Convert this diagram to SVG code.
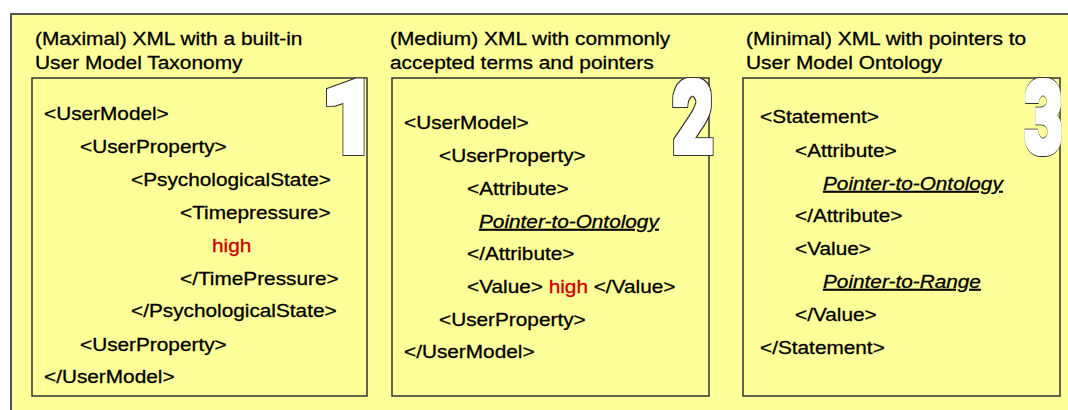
<svg xmlns="http://www.w3.org/2000/svg" width="1068" height="410" viewBox="0 0 1068 410">
<style>
.frame{fill:#FFFF99;stroke:#555;stroke-width:2}
.box{fill:#FFFF99;stroke:#333;stroke-width:1.5}
.hd{font-family:"Liberation Sans",Arial,sans-serif;font-size:19px;fill:#000;stroke:#000;stroke-width:0.3}
.t{font-family:"Liberation Sans",Arial,sans-serif;font-size:18px;fill:#000;stroke:#000;stroke-width:0.3}
.ptr{font-style:italic;text-decoration:underline}
.red{fill:#CC0000;stroke:#CC0000}
.num{font-family:Roboto,"Liberation Sans",sans-serif;font-weight:bold;font-size:98px;fill:#fff;text-anchor:middle;filter:url(#heavy)}
</style>
<defs>
<filter id="heavy" x="-30%" y="-20%" width="160%" height="140%">
<feMorphology in="SourceAlpha" operator="dilate" radius="3.6" result="o"/>
<feFlood flood-color="#333"/>
<feComposite in2="o" operator="in" result="ol"/>
<feMorphology in="SourceAlpha" operator="dilate" radius="2.6" result="i"/>
<feFlood flood-color="#fff"/>
<feComposite in2="i" operator="in" result="w"/>
<feMerge><feMergeNode in="ol"/><feMergeNode in="w"/></feMerge>
</filter>
</defs>
<rect width="1068" height="410" fill="#fff"/>
<rect class="frame" x="11" y="14" width="1070" height="410"/>
<g id="box1">
<text class="hd" transform="translate(35 45) scale(1.1 1)">(Maximal) XML with a built-in</text>
<text class="hd" transform="translate(35 69) scale(1.1 1)">User Model Taxonomy</text>
<rect class="box" x="32" y="78" width="335" height="318"/>
<text class="num" transform="translate(350 152) scale(1.0 1)">1</text>
<text class="t" transform="translate(44 120) scale(1.155 1)">&lt;UserModel&gt;</text>
<text class="t" transform="translate(80 153) scale(1.155 1)">&lt;UserProperty&gt;</text>
<text class="t" transform="translate(131 186) scale(1.155 1)">&lt;PsychologicalState&gt;</text>
<text class="t" transform="translate(180 219) scale(1.155 1)">&lt;Timepressure&gt;</text>
<text class="t red" transform="translate(212 252) scale(1.155 1)">high</text>
<text class="t" transform="translate(180 285) scale(1.155 1)">&lt;/TimePressure&gt;</text>
<text class="t" transform="translate(131 317) scale(1.155 1)">&lt;/PsychologicalState&gt;</text>
<text class="t" transform="translate(80 351) scale(1.155 1)">&lt;UserProperty&gt;</text>
<text class="t" transform="translate(44 383) scale(1.155 1)">&lt;/UserModel&gt;</text>
</g>
<g id="box2">
<text class="hd" transform="translate(390 45) scale(1.1 1)">(Medium) XML with commonly</text>
<text class="hd" transform="translate(390 69) scale(1.1 1)">accepted terms and pointers</text>
<rect class="box" x="392" y="78" width="317" height="318"/>
<text class="num" transform="translate(693 152) scale(0.72 1)">2</text>
<text class="t" transform="translate(404 129) scale(1.155 1)">&lt;UserModel&gt;</text>
<text class="t" transform="translate(439 162) scale(1.155 1)">&lt;UserProperty&gt;</text>
<text class="t" transform="translate(467 195) scale(1.155 1)">&lt;Attribute&gt;</text>
<text class="t ptr" transform="translate(479 228) scale(1.155 1)">Pointer-to-Ontology</text>
<text class="t" transform="translate(467 260) scale(1.155 1)">&lt;/Attribute&gt;</text>
<text class="t" transform="translate(467 293) scale(1.155 1)">&lt;Value&gt; <tspan class="red">high</tspan> &lt;/Value&gt;</text>
<text class="t" transform="translate(439 326) scale(1.155 1)">&lt;UserProperty&gt;</text>
<text class="t" transform="translate(404 358) scale(1.155 1)">&lt;/UserModel&gt;</text>
</g>
<g id="box3">
<text class="hd" transform="translate(746 45) scale(1.1 1)">(Minimal) XML with pointers to</text>
<text class="hd" transform="translate(746 69) scale(1.1 1)">User Model Ontology</text>
<rect class="box" x="743" y="78" width="317" height="318"/>
<text class="num" transform="translate(1043.5 152) scale(0.68 1)">3</text>
<text class="t" transform="translate(760 123) scale(1.155 1)">&lt;Statement&gt;</text>
<text class="t" transform="translate(795 157) scale(1.155 1)">&lt;Attribute&gt;</text>
<text class="t ptr" transform="translate(823 190) scale(1.155 1)">Pointer-to-Ontology</text>
<text class="t" transform="translate(795 222) scale(1.155 1)">&lt;/Attribute&gt;</text>
<text class="t" transform="translate(795 255) scale(1.155 1)">&lt;Value&gt;</text>
<text class="t ptr" transform="translate(823 288) scale(1.155 1)">Pointer-to-Range</text>
<text class="t" transform="translate(795 321) scale(1.155 1)">&lt;/Value&gt;</text>
<text class="t" transform="translate(760 354) scale(1.155 1)">&lt;/Statement&gt;</text>
</g>
</svg>
